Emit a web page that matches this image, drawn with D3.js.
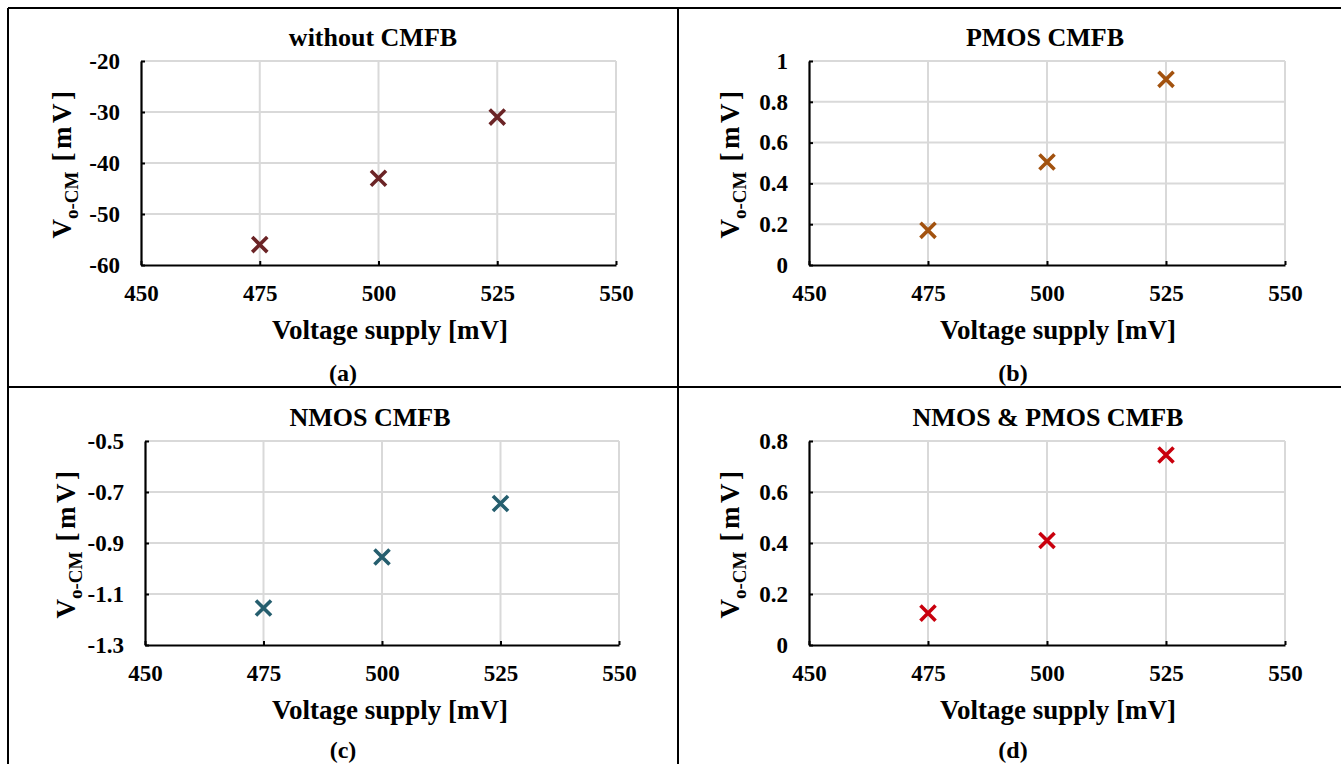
<!DOCTYPE html>
<html>
<head>
<meta charset="utf-8">
<script src="https://cdn.jsdelivr.net/npm/d3@7"></script>
<style>
  body { margin: 0; background: #fff; }
  svg { display: block; font-family: "Liberation Serif", "Times New Roman", serif; font-weight: bold; }
  .grid line { stroke: #d9d9d9; stroke-width: 2; }
  .axis path, .axis line { stroke: #000; }
</style>
</head>
<body>
<div id="chart"></div>
<script>
// Shared x values (Voltage supply, mV)
const supplyVoltages = [475, 500, 525];
const xTicks = [450, 475, 500, 525, 550];

// Output common-mode voltage (mV) for each configuration
const withoutCmfb = [-56, -43, -31];
const pmosCmfb = [0.17, 0.505, 0.91];
const nmosCmfb = [-1.155, -0.955, -0.745];
const nmosPmosCmfb = [0.125, 0.41, 0.745];

// y tick labels for each panel
const yTicksA = [-60, -50, -40, -30, -20];
const yTicksB = [0, 0.2, 0.4, 0.6, 0.8, 1];
const yTicksC = [-1.3, -1.1, -0.9, -0.7, -0.5];
const yTicksD = [0, 0.2, 0.4, 0.6, 0.8];

const titles = ["without CMFB", "PMOS CMFB", "NMOS CMFB", "NMOS & PMOS CMFB"];
const panelTags = ["(a)", "(b)", "(c)", "(d)"];

const W = 1341, H = 764;
const FONT = "'Liberation Serif', 'Times New Roman', serif";

const svg = d3.select("#chart").append("svg")
    .attr("width", W)
    .attr("height", H);

// plain number with an ordinary hyphen for negatives (like Excel)
const plain = d => String(+d.toFixed(2)).replace("\u2212", "-");

// panel layout (pixel boxes of the plot areas) + styling
const panels = [
    { values: withoutCmfb, ticks: yTicksA, color: "#6b2426",
      box: { l: 141, r: 616, t: 61, b: 265 }, titleX: 373, xlabX: 390, tagX: 343, top: 0, tagY: 381 },
    { values: pmosCmfb, ticks: yTicksB, color: "#a2520f",
      box: { l: 809, r: 1285, t: 61, b: 265 }, titleX: 1045, xlabX: 1058, tagX: 1013, top: 0, tagY: 381 },
    { values: nmosCmfb, ticks: yTicksC, color: "#255e6e",
      box: { l: 145, r: 619, t: 441, b: 645 }, titleX: 370, xlabX: 390, tagX: 343, top: 380, tagY: 378 },
    { values: nmosPmosCmfb, ticks: yTicksD, color: "#c9000d",
      box: { l: 809, r: 1285, t: 441, b: 645 }, titleX: 1048, xlabX: 1058, tagX: 1013, top: 380, tagY: 378 }
];

// frame lines around the four panels
const frame = svg.append("g").attr("stroke", "#000").attr("stroke-width", 2);
frame.append("line").attr("x1", 8).attr("x2", W).attr("y1", 8).attr("y2", 8);
frame.append("line").attr("x1", 8).attr("x2", 8).attr("y1", 8).attr("y2", H);
frame.append("line").attr("x1", 678).attr("x2", 678).attr("y1", 8).attr("y2", H);
frame.append("line").attr("x1", 8).attr("x2", W).attr("y1", 387).attr("y2", 387);

const xSym = d3.symbol().type(d3.symbolX).size(150);

panels.forEach((p, i) => {
    const g = svg.append("g");

    const x = d3.scaleLinear().domain([450, 550]).range([p.box.l, p.box.r]);
    const y = d3.scaleLinear().domain(d3.extent(p.ticks)).range([p.box.b, p.box.t]);

    // gridlines
    const grid = g.append("g").attr("class", "grid");
    grid.selectAll(".gx").data(xTicks.slice(1)).enter().append("line")
        .attr("x1", d => x(d)).attr("x2", d => x(d))
        .attr("y1", p.box.t).attr("y2", p.box.b);
    grid.selectAll(".gy").data(p.ticks.slice(1)).enter().append("line")
        .attr("x1", p.box.l).attr("x2", p.box.r)
        .attr("y1", d => y(d)).attr("y2", d => y(d));

    // axes (ticks point inward like the original)
    const xAxis = d3.axisBottom(x).tickValues(xTicks).tickSizeInner(-4).tickSizeOuter(0).tickPadding(20);
    const yAxis = d3.axisLeft(y).tickValues(p.ticks).tickFormat(plain).tickSizeInner(-4).tickSizeOuter(0).tickPadding(21);

    const gx = g.append("g").attr("class", "axis")
        .attr("transform", "translate(0," + p.box.b + ")")
        .call(xAxis);
    gx.select(".domain").attr("stroke-width", 2.2);
    gx.selectAll(".tick line").attr("stroke-width", 2);

    const gy = g.append("g").attr("class", "axis")
        .attr("transform", "translate(" + p.box.l + ",0)")
        .call(yAxis);
    gy.select(".domain").attr("stroke-width", 2.2);
    gy.selectAll(".tick line").attr("stroke-width", 2);

    [gx, gy].forEach(a => a.attr("font-family", FONT).attr("font-size", 23)
        .selectAll(".tick text").style("font-family", FONT).style("font-weight", "bold").style("font-size", "23px"));

    // markers
    g.selectAll(".mark").data(p.values).enter().append("path")
        .attr("class", "mark")
        .attr("transform", (d, j) => "translate(" + x(supplyVoltages[j]) + "," + y(d) + ")")
        .attr("d", xSym)
        .attr("fill", "none")
        .attr("stroke", p.color)
        .attr("stroke-width", 3.6);

    // title
    g.append("text")
        .attr("x", p.titleX).attr("y", p.top + 46)
        .attr("text-anchor", "middle")
        .style("font-size", "26px")
        .text(titles[i]);

    // x label
    g.append("text")
        .attr("x", p.xlabX).attr("y", p.top + 339)
        .attr("text-anchor", "middle")
        .style("font-size", "27px")
        .text("Voltage supply [mV]");

    // panel tag
    g.append("text")
        .attr("x", p.tagX).attr("y", p.top + p.tagY)
        .attr("text-anchor", "middle")
        .style("font-size", "24px")
        .text(panelTags[i]);

    // y label with subscript
    const yl = g.append("text")
        .attr("transform", "translate(" + (p.box.l - 70) + "," + ((p.box.t + p.box.b) / 2) + ") rotate(-90)")
        .attr("text-anchor", "middle")
        .style("font-size", "27px");
    yl.append("tspan").text("V");
    yl.append("tspan").attr("dy", 7).style("font-size", "19px").text("o-CM");
    yl.append("tspan").attr("dy", -7).attr("letter-spacing", "3.5px").text(" [mV]");
});
</script>
</body>
</html>
